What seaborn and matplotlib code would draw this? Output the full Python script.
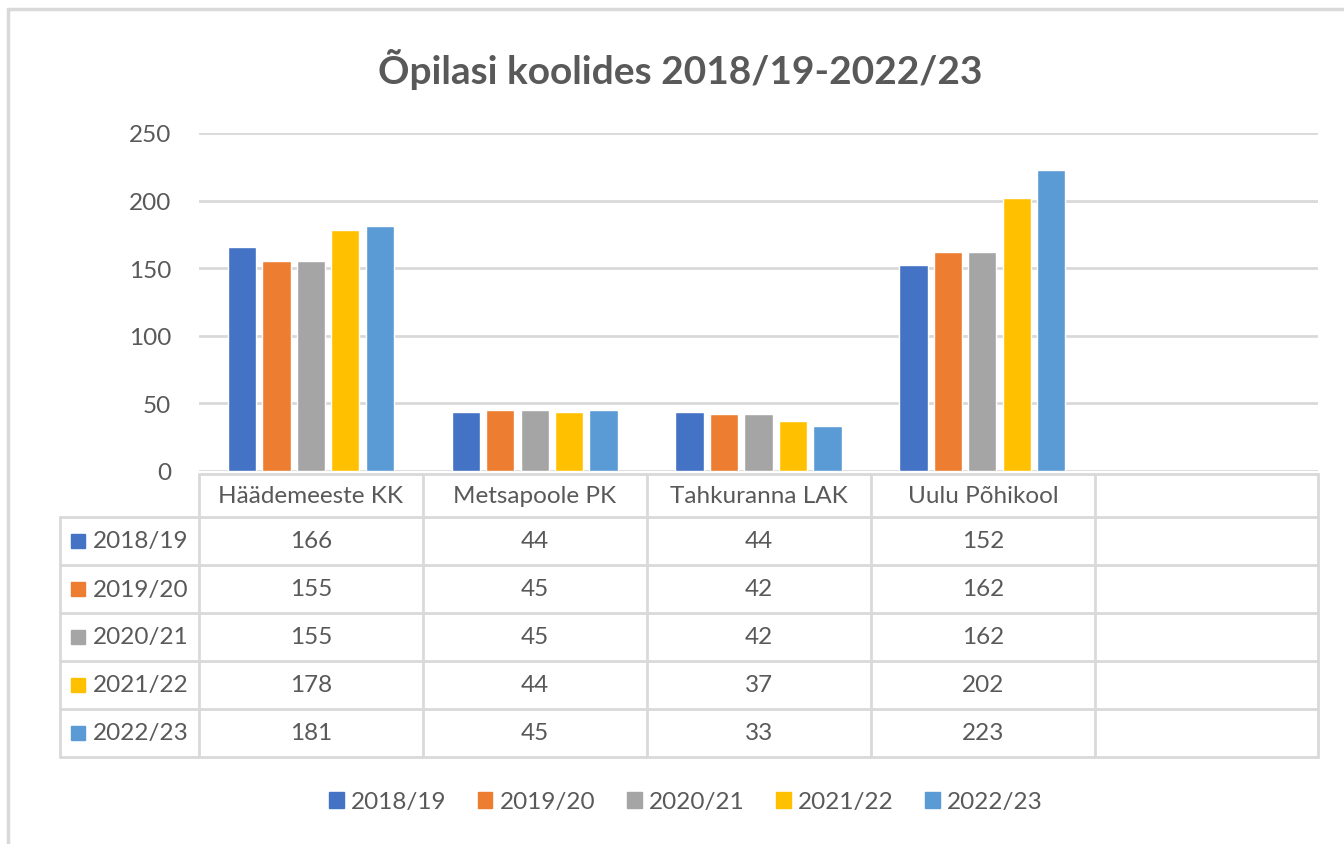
import pandas as pd
import seaborn as sns
import matplotlib.pyplot as plt
from matplotlib.patches import Rectangle
from matplotlib.lines import Line2D

schools = ["Häädemeeste KK", "Metsapoole PK", "Tahkuranna LAK", "Uulu Põhikool"]
years = ["2018/19", "2019/20", "2020/21", "2021/22", "2022/23"]
v_1819 = [166, 44, 44, 152]
v_1920 = [155, 45, 42, 162]
v_2021 = [155, 45, 42, 162]
v_2122 = [178, 44, 37, 202]
v_2223 = [181, 45, 33, 223]
colors = ["#4472C4", "#ED7D31", "#A5A5A5", "#FFC000", "#5B9BD5"]

rows = []
for yr, vals in zip(years, [v_1819, v_1920, v_2021, v_2122, v_2223]):
    for s, v in zip(schools, vals):
        rows.append({"kool": s, "aasta": yr, "opilasi": v})
df = pd.DataFrame(rows)

sns.set_style("white")
plt.rcParams["font.family"] = ["Lato", "DejaVu Sans"]
txt = "#595959"
line_c = "#D9D9D9"
fs = 17.5

W, H = 1344, 845
fig = plt.figure(figsize=(W / 100, H / 100), dpi=100)

def fx(px):
    return px / W

def fy(py):
    return 1 - py / H

# outer chart border (only top/left visible)
fig.add_artist(Line2D([fx(8), fx(8)], [fy(10), fy(850)], color=line_c, lw=2.5))
fig.add_artist(Line2D([fx(8), fx(1350)], [fy(10), fy(10)], color=line_c, lw=2.5))

x0, x1, ytop, ybot = 199, 1318, 134, 472
ax = fig.add_axes([fx(x0), fy(ybot), fx(x1 - x0), (ybot - ytop) / H])
order = schools + [""]
sns.barplot(data=df, x="kool", y="opilasi", hue="aasta", order=order,
            hue_order=years, palette=colors, width=0.77, gap=0.18,
            saturation=1, legend=False, ax=ax)
ax.set_ylim(0, 250)
ax.set_xlim(-0.5, 4.5)
ax.set_yticks(range(0, 251, 50))
ax.yaxis.grid(True, color=line_c, lw=2)
ax.set_axisbelow(True)
for sp in ax.spines.values():
    sp.set_visible(False)
ax.set_xticks([])
ax.set_xlabel("")
ax.set_ylabel("")
ax.tick_params(axis="y", length=0, labelsize=fs, labelcolor=txt, pad=20)

fig.text(fx(680), fy(70), "Õpilasi koolides 2018/19-2022/23", ha="center",
         va="center", fontsize=28, fontweight="bold", color=txt)

# data table below the axis
col_x = [199, 423, 647, 871, 1095, 1318]
row_y = [475, 518, 566, 614, 662, 710, 758]
lw = 2
fig.add_artist(Line2D([fx(199), fx(1318)], [fy(475), fy(475)], color=line_c, lw=lw))
for yy in row_y[1:]:
    fig.add_artist(Line2D([fx(60), fx(1318)], [fy(yy), fy(yy)], color=line_c, lw=lw))
fig.add_artist(Line2D([fx(60), fx(60)], [fy(518), fy(758)], color=line_c, lw=lw))
for xx in col_x:
    fig.add_artist(Line2D([fx(xx), fx(xx)], [fy(475), fy(758)], color=line_c, lw=lw))

for i, s in enumerate(schools):
    cx = (col_x[i] + col_x[i + 1]) / 2
    fig.text(fx(cx), fy(497), s, ha="center", va="center", fontsize=fs, color=txt)

for r, (yr, vals, c) in enumerate(zip(years, [v_1819, v_1920, v_2021, v_2122, v_2223], colors)):
    cy = (row_y[r + 1] + row_y[r + 2]) / 2
    fig.add_artist(Rectangle((fx(71), fy(cy + 7)), fx(14), 14 / H, color=c))
    fig.text(fx(93), fy(cy), yr, ha="left", va="center", fontsize=fs, color=txt)
    for i, v in enumerate(vals):
        cx = (col_x[i] + col_x[i + 1]) / 2
        fig.text(fx(cx), fy(cy), str(v), ha="center", va="center", fontsize=fs, color=txt)

handles = [Rectangle((0, 0), 1, 1, color=c) for c in colors]
leg = fig.legend(handles, years, loc="center", bbox_to_anchor=(fx(686), fy(803)),
                 ncol=5, frameon=False, fontsize=fs, handlelength=0.6,
                 handleheight=0.6, handletextpad=0.3, columnspacing=1.3)
for t in leg.get_texts():
    t.set_color(txt)

fig.savefig("out.png", dpi=100)
